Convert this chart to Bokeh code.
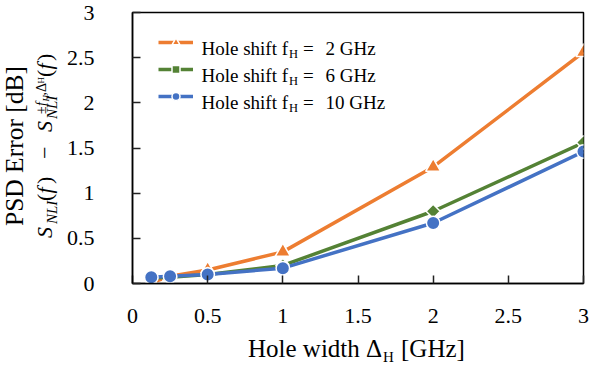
from math import pi
from bokeh.plotting import figure
from bokeh.layouts import row, column
from bokeh.models import (Range1d, FixedTicker, CustomJSTickFormatter, Label,
                          Legend, LegendItem, Div)
from bokeh.embed import file_html
from bokeh.resources import INLINE

# ---- data ----
hole_width = [0.125, 0.25, 0.5, 1, 2, 3]          # Delta_H [GHz]
err_fh2 = [0.01, 0.08, 0.15, 0.35, 1.29, 2.56]    # f_H = 2 GHz
err_fh6 = [0.06, 0.07, 0.10, 0.20, 0.80, 1.56]    # f_H = 6 GHz
err_fh10 = [0.07, 0.08, 0.10, 0.17, 0.67, 1.46]   # f_H = 10 GHz
shift_values = ["2", "6", "10"]
x_ticks = [0, 0.5, 1, 1.5, 2, 2.5, 3]
y_ticks = [0, 0.5, 1, 1.5, 2, 2.5, 3]

FONT = "Liberation Serif"
YDIV_W = 62          # width of the y-title strip
PW, PH = 592 - YDIV_W, 330    # main figure size
FL, FB = 132, 283    # page position of frame left / bottom

p = figure(width=PW, height=PH, output_backend="svg", toolbar_location=None,
           x_range=Range1d(0, 3), y_range=Range1d(0, 3),
           min_border_left=FL - YDIV_W, min_border_right=9, min_border_top=12,
           min_border_bottom=PH - FB, margin=0)
p.xgrid.visible = False
p.ygrid.visible = False
p.outline_line_color = "black"
p.outline_line_width = 1.5

for ax in (p.xaxis[0], p.yaxis[0]):
    ax.major_tick_in = 8
    ax.major_tick_out = 0
    ax.minor_tick_in = 0
    ax.minor_tick_out = 0
    ax.axis_line_color = "black"
    ax.axis_line_width = 1.5
    ax.major_tick_line_color = "#222222"
    ax.major_tick_line_width = 1.5
    ax.major_label_text_font = FONT
    ax.major_label_text_font_style = "normal"
    ax.major_label_text_font_size = "22px"
    ax.major_label_text_color = "black"
    ax.formatter = CustomJSTickFormatter(code="return String(tick);")
p.xaxis[0].ticker = FixedTicker(ticks=x_ticks)
p.yaxis[0].ticker = FixedTicker(ticks=y_ticks)
p.xaxis[0].major_label_standoff = 25
p.yaxis[0].major_label_standoff = 38

series = [err_fh2, err_fh6, err_fh10]
colors = ["#ED7D31", "#548235", "#4472C4"]
items = []
for ys, col, mk in zip(series, colors, ["triangle", "diamond", "circle"]):
    ln = p.line(hole_width, ys, line_color=col, line_width=3.5)
    if mk == "diamond":
        sc = p.scatter(hole_width, ys, marker="square", size=10, angle=pi / 4,
                       fill_color=col, line_color="white", line_width=1.5)
    elif mk == "triangle":
        sc = p.scatter(hole_width, ys, marker="triangle", size=15,
                       fill_color=col, line_color="white", line_width=1.5)
    else:
        sc = p.scatter(hole_width, ys, marker="circle", size=13.5,
                       fill_color=col, line_color="white", line_width=1.5)
    items.append(LegendItem(label=" ", renderers=[ln, sc]))

legend = Legend(items=items, location=(26, 177), glyph_width=35, glyph_height=20,
                label_height=20, label_width=1, label_standoff=0, spacing=7,
                padding=0, margin=0, border_line_color=None,
                background_fill_alpha=0, label_text_font_size="1px")
p.add_layout(legend)


def lab(text, px, py, size):
    # px, py: page pixel positions of the text start on its baseline
    p.add_layout(Label(x=px - FL, y=FB - py, x_units="screen", y_units="screen",
                       text=text, text_font=FONT, text_font_size=f"{size}px",
                       text_align="left", text_baseline="alphabetic",
                       text_color="black"))


# legend texts (inside the frame)
for r, v in enumerate(shift_values):
    yb = 48.3 + 27 * r
    lab("Hole shift f", 201, yb, 19)
    lab("H", 288.5, yb + 5, 12.5)
    lab("=", 302.5, yb, 19)
    lab(f"{v} GHz", 325, yb, 19)


def svg_text(text, x, y, size, italic=False, rot=False, anchor="start"):
    style = "italic" if italic else "normal"
    tr = f' transform="rotate(-90 {x} {y})"' if rot else ""
    css = (f"font-family:'Liberation Serif',serif;font-size:{size}px;"
           f"font-style:{style};font-weight:normal;fill:#000;text-anchor:{anchor}")
    return f'<text x="{x}" y="{y}" style="{css}"{tr}>{text}</text>'


# ---- y-axis title (rotated), coordinates = page coordinates ----
ypieces = [
    ("S", 52, 238, 22, True), ("NLI", 57, 224, 15, True),
    ("(", 52, 201, 22, False), ("f", 52, 193.5, 22, True), (")", 52, 184, 22, False),
    ("\u2212", 52, 159, 22, False),
    ("S", 52, 132, 22, True), ("NLI", 57, 119, 15, True),
    ("\u00b1", 46, 114, 14, False), ("f", 46, 106, 14, True),
    ("H", 48.5, 101.5, 9, True), (",", 46, 95.5, 14, False),
    ("\u0394", 46, 92, 14, False), ("H", 44, 83.5, 9, False),
    ("(", 52, 77, 22, False), ("f", 52, 69.5, 22, True), (")", 52, 61, 22, False),
]
ysvg = [f'<svg xmlns="http://www.w3.org/2000/svg" width="{YDIV_W}" height="384" '
        f'style="display:block">']
ysvg.append(svg_text("PSD Error [dB]", 23, 146, 25.5, rot=True, anchor="middle"))
for t, x, y, s, it in ypieces:
    ysvg.append(svg_text(t, x, y, s, it, rot=True))
ysvg.append("</svg>")
ydiv = Div(text="".join(ysvg), width=YDIV_W, height=384, margin=0)

# ---- x-axis title, coordinates relative to the strip below the figure ----
ox, oy = YDIV_W, PH
xsvg = [f'<svg xmlns="http://www.w3.org/2000/svg" width="{PW}" height="{384 - PH}" '
        f'style="display:block">',
        svg_text("Hole width \u0394", 248 - ox, 357 - oy, 25),
        svg_text("H", 383 - ox, 362 - oy, 15),
        svg_text("[GHz]", 401 - ox, 357 - oy, 25),
        "</svg>"]
xdiv = Div(text="".join(xsvg), width=PW, height=384 - PH, margin=0)

layout = row(ydiv, column(p, xdiv, spacing=0, margin=0), spacing=0, margin=0)

open("out.html", "w").write(file_html(layout, INLINE))
